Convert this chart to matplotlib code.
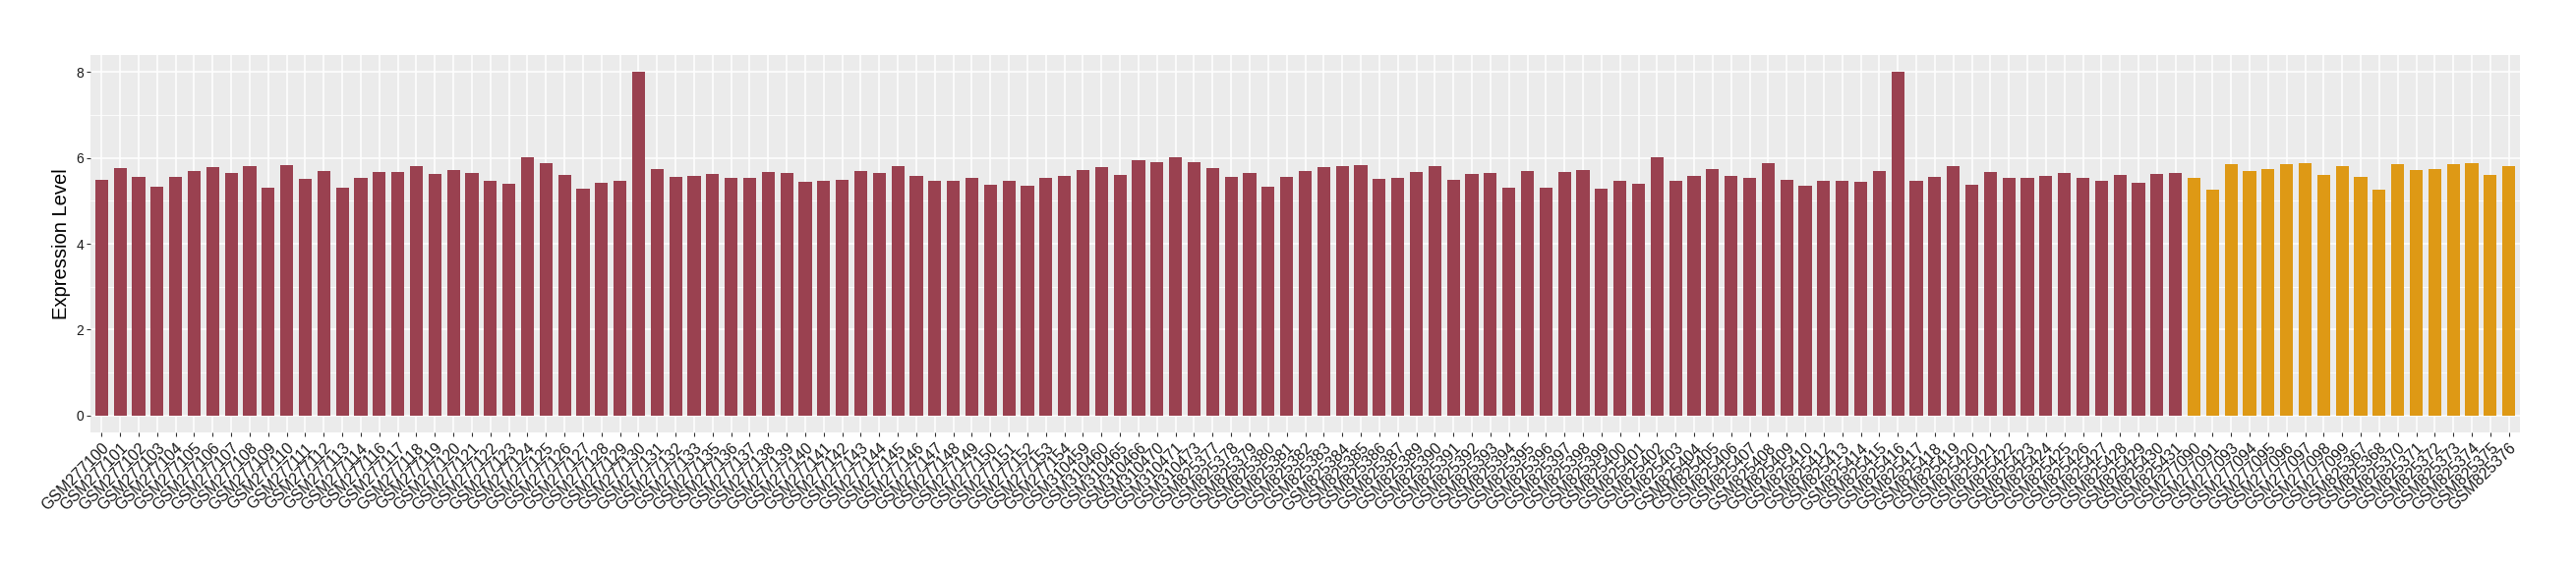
import matplotlib
matplotlib.use("Agg")
import matplotlib.pyplot as plt
from matplotlib.ticker import MultipleLocator

plt.rcParams['font.family'] = ['Liberation Sans', 'DejaVu Sans']

# ---- data ----
red_samples = (
    [f"GSM2771{n:02d}" for n in list(range(0, 15)) + list(range(16, 34)) + list(range(35, 55))]
    + ["GSM310459", "GSM310460", "GSM310465", "GSM310466", "GSM310470", "GSM310471", "GSM310473"]
    + [f"GSM825{n}" for n in list(range(377, 388)) + list(range(389, 411)) + list(range(412, 432))]
)
orange_samples = (
    ["GSM277090", "GSM277091", "GSM277093", "GSM277094", "GSM277095", "GSM277096",
     "GSM277097", "GSM277098", "GSM277099",
     "GSM825367", "GSM825368", "GSM825370", "GSM825371", "GSM825372", "GSM825373",
     "GSM825374", "GSM825375", "GSM825376"]
)

red_values = [
    5.49, 5.76, 5.56, 5.33, 5.56, 5.69, 5.79, 5.65, 5.81, 5.31,
    5.83, 5.51, 5.69, 5.31, 5.53, 5.67, 5.67, 5.81, 5.63, 5.72,
    5.65, 5.47, 5.40, 6.02, 5.88, 5.60, 5.28, 5.42, 5.47, 8.00,
    5.74, 5.56, 5.58, 5.63, 5.53, 5.53, 5.67, 5.65, 5.44, 5.47,
    5.49, 5.69, 5.65, 5.81, 5.58, 5.47, 5.47, 5.53, 5.37, 5.47,
    5.35, 5.53, 5.58, 5.72, 5.79, 5.60, 5.95, 5.90, 6.02, 5.90,
    5.76, 5.56, 5.65, 5.33, 5.56, 5.69, 5.79, 5.81, 5.83, 5.51,
    5.53, 5.67, 5.81, 5.49, 5.63, 5.65, 5.31, 5.69, 5.31, 5.67,
    5.72, 5.28, 5.47, 5.40, 6.02, 5.47, 5.58, 5.74, 5.58, 5.53,
    5.88, 5.49, 5.35, 5.47, 5.47, 5.44, 5.69, 8.00, 5.47, 5.56,
    5.81, 5.37, 5.67, 5.53, 5.53, 5.58, 5.65, 5.53, 5.47, 5.60,
    5.42, 5.63, 5.65,
]
orange_values = [
    5.53, 5.26, 5.85, 5.70, 5.75, 5.85, 5.88, 5.60, 5.82,
    5.55, 5.25, 5.86, 5.71, 5.75, 5.85, 5.88, 5.60, 5.82,
]

red_color = "#9A4150"
orange_color = "#DE9915"

samples = red_samples + orange_samples
values = red_values + orange_values
colors = [red_color] * len(red_values) + [orange_color] * len(orange_values)

# ---- figure ----
W, H = 2620, 580
fig = plt.figure(figsize=(W / 100, H / 100), dpi=100)
left, right, top, bottom = 92, 2563, 56, 440
ax = fig.add_axes([left / W, 1 - bottom / H, (right - left) / W, (bottom - top) / H])

ax.set_facecolor("#EBEBEB")
x = list(range(len(samples)))
ax.bar(x, values, width=0.7, color=colors, zorder=3)

ax.set_xlim(-0.6, len(samples) - 1 + 0.6)
ax.set_ylim(-0.4, 8.4)
ax.yaxis.set_major_locator(MultipleLocator(2))
ax.yaxis.set_minor_locator(MultipleLocator(1))
ax.grid(which="major", axis="both", color="white", linewidth=1.1, zorder=0)
ax.grid(which="minor", axis="y", color="white", linewidth=0.55, zorder=0)
ax.tick_params(axis="y", which="minor", length=0)

ax.set_xticks(x)
ax.set_xticklabels(samples, rotation=45, ha="right", va="top",
                   rotation_mode="anchor", fontsize=11.5, color="#1a1a1a")
ax.tick_params(axis="x", which="major", length=3, width=0.8, color="#333333", pad=3)
ax.tick_params(axis="y", which="major", length=3, width=0.8, color="#333333",
               pad=2, labelsize=10, labelcolor="#1a1a1a")

for s in ax.spines.values():
    s.set_visible(False)

ax.set_ylabel("Expression Level", fontsize=14.5, color="black", labelpad=4)

fig.savefig("out.png", dpi=100)
